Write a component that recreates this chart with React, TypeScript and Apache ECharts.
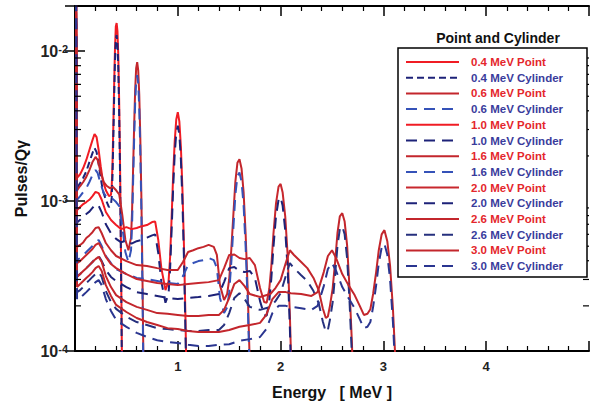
import React, { useEffect, useRef } from 'react';
import * as echarts from 'echarts';

const FONT = '"Liberation Sans", Arial, Helvetica, sans-serif';

const legendTitle = 'Point and Cylinder';
const xAxisTitle = 'Energy   [ MeV ]';
const yAxisTitle = 'Pulses/Q\u03b3';
const xTickLabels = ['1', '2', '3', '4'];
const yMinorMantissas = [2, 3, 4, 5, 6, 7, 8, 9];
const yDecades = [-4, -3, -2];

const seriesNames = [
  '0.4 MeV Point', '0.4 MeV Cylinder', '0.6 MeV Point', '0.6 MeV Cylinder',
  '1.0 MeV Point', '1.0 MeV Cylinder', '1.6 MeV Point', '1.6 MeV Cylinder',
  '2.0 MeV Point', '2.0 MeV Cylinder', '2.6 MeV Point', '2.6 MeV Cylinder',
  '3.0 MeV Point', '3.0 MeV Cylinder',
];

// [energy MeV, pulses/Qγ]
const p04: [number, number][] = [
  [0.008, 0.05], [0.02, 1.43e-3], [0.05, 1.51e-3], [0.08, 1.66e-3], [0.11, 1.88e-3], [0.14, 2.19e-3],
  [0.17, 2.55e-3], [0.19, 2.8e-3], [0.21, 2.67e-3], [0.23, 2.19e-3], [0.25, 1.71e-3], [0.27, 1.38e-3],
  [0.3, 1.18e-3], [0.33, 1.08e-3], [0.35, 1.1e-3], [0.357, 1.25e-3], [0.365, 1.78e-3], [0.373, 3.2e-3],
  [0.381, 6.0e-3], [0.389, 1.04e-2], [0.397, 1.46e-2], [0.405, 1.54e-2], [0.413, 1.36e-2], [0.421, 9.4e-3],
  [0.429, 4.9e-3], [0.437, 2.08e-3], [0.445, 6.8e-4], [0.453, 1.7e-4], [0.461, 4e-5],
];
const c04: [number, number][] = [
  [0.008, 0.05], [0.02, 1.22e-3], [0.05, 1.32e-3], [0.08, 1.43e-3], [0.11, 1.58e-3], [0.14, 1.82e-3],
  [0.17, 2.09e-3], [0.19, 2.26e-3], [0.21, 2.12e-3], [0.23, 1.77e-3], [0.25, 1.43e-3], [0.27, 1.18e-3],
  [0.3, 1.02e-3], [0.33, 9.1e-4], [0.35, 9.5e-4], [0.357, 1.05e-3], [0.365, 1.48e-3], [0.373, 2.66e-3],
  [0.381, 5.0e-3], [0.389, 8.6e-3], [0.397, 1.2e-2], [0.405, 1.28e-2], [0.413, 1.13e-2], [0.421, 7.8e-3],
  [0.429, 4.1e-3], [0.437, 1.73e-3], [0.445, 5.6e-4], [0.453, 1.4e-4], [0.461, 3e-5],
];
const p06: [number, number][] = [
  [0.008, 0.05], [0.02, 1.18e-3], [0.05, 1.26e-3], [0.08, 1.34e-3], [0.11, 1.45e-3], [0.14, 1.61e-3],
  [0.17, 1.82e-3], [0.2, 1.97e-3], [0.22, 1.88e-3], [0.25, 1.56e-3], [0.28, 1.34e-3], [0.31, 1.26e-3],
  [0.34, 1.22e-3], [0.37, 1.24e-3], [0.4, 1.18e-3], [0.43, 1.11e-3], [0.46, 8.1e-4], [0.49, 5.5e-4],
  [0.52, 4.7e-4], [0.545, 5.7e-4], [0.555, 8.5e-4], [0.565, 1.62e-3], [0.575, 3.1e-3], [0.585, 5.45e-3],
  [0.595, 7.7e-3], [0.605, 8.45e-3], [0.615, 7.44e-3], [0.625, 5.15e-3], [0.635, 2.7e-3], [0.645, 1.14e-3],
  [0.655, 3.7e-4], [0.665, 9.3e-5], [0.675, 2e-5],
];
const c06: [number, number][] = [
  [0.008, 0.05], [0.02, 1.02e-3], [0.05, 1.08e-3], [0.08, 1.15e-3], [0.11, 1.22e-3], [0.14, 1.34e-3],
  [0.17, 1.49e-3], [0.2, 1.61e-3], [0.22, 1.54e-3], [0.25, 1.3e-3], [0.28, 1.13e-3], [0.31, 1.06e-3],
  [0.34, 1.05e-3], [0.37, 1.03e-3], [0.4, 9.85e-4], [0.43, 9.26e-4], [0.46, 6.8e-4], [0.49, 4.57e-4],
  [0.52, 3.92e-4], [0.545, 4.7e-4], [0.555, 6.9e-4], [0.565, 1.32e-3], [0.575, 2.55e-3], [0.585, 4.45e-3],
  [0.595, 6.3e-3], [0.605, 6.92e-3], [0.615, 6.09e-3], [0.625, 4.22e-3], [0.635, 2.21e-3], [0.645, 9.3e-4],
  [0.655, 3.0e-4], [0.665, 7.6e-5], [0.675, 2e-5],
];
const p10: [number, number][] = [
  [0.008, 0.05], [0.02, 8.71e-4], [0.05, 9.12e-4], [0.08, 9.55e-4], [0.11, 9.85e-4], [0.14, 1.02e-3],
  [0.17, 1.08e-3], [0.2, 1.15e-3], [0.23, 1.13e-3], [0.26, 1.02e-3], [0.3, 8.45e-4], [0.35, 7.47e-4],
  [0.4, 6.92e-4], [0.45, 6.5e-4], [0.5, 6.7e-4], [0.55, 6.5e-4], [0.6, 6.61e-4], [0.65, 6.8e-4],
  [0.7, 6.92e-4], [0.75, 7.24e-4], [0.78, 7.3e-4], [0.81, 5.5e-4], [0.84, 3.57e-4], [0.88, 2.55e-4],
  [0.91, 2.9e-4], [0.925, 4.2e-4], [0.94, 7.8e-4], [0.955, 1.5e-3], [0.97, 2.5e-3], [0.985, 3.5e-3],
  [1.0, 3.92e-3], [1.015, 3.4e-3], [1.03, 2.3e-3], [1.045, 1.2e-3], [1.06, 5.0e-4], [1.075, 1.6e-4], [1.09, 4e-5],
];
const c10: [number, number][] = [
  [0.008, 0.05], [0.02, 7.2e-4], [0.05, 7.5e-4], [0.08, 7.9e-4], [0.11, 8.2e-4], [0.14, 8.5e-4],
  [0.17, 9.0e-4], [0.2, 9.5e-4], [0.23, 9.3e-4], [0.26, 8.4e-4], [0.3, 7.0e-4], [0.35, 6.1e-4],
  [0.4, 5.6e-4], [0.45, 5.3e-4], [0.5, 5.5e-4], [0.55, 5.2e-4], [0.6, 5.4e-4], [0.65, 5.5e-4],
  [0.7, 5.7e-4], [0.75, 5.9e-4], [0.78, 6.0e-4], [0.81, 4.5e-4], [0.84, 2.9e-4], [0.88, 2.1e-4],
  [0.91, 2.4e-4], [0.925, 3.5e-4], [0.94, 6.4e-4], [0.955, 1.23e-3], [0.97, 2.05e-3], [0.985, 2.85e-3],
  [1.0, 3.18e-3], [1.015, 2.78e-3], [1.03, 1.9e-3], [1.045, 1.0e-3], [1.06, 4.1e-4], [1.075, 1.3e-4], [1.09, 3e-5],
];
const p16: [number, number][] = [
  [0.008, 0.05], [0.02, 4.95e-4], [0.05, 5.1e-4], [0.08, 5.3e-4], [0.11, 5.67e-4], [0.14, 5.9e-4],
  [0.17, 6.2e-4], [0.2, 6.61e-4], [0.23, 6.7e-4], [0.26, 6.1e-4], [0.3, 5.25e-4], [0.35, 4.7e-4],
  [0.4, 4.3e-4], [0.5, 3.98e-4], [0.6, 3.74e-4], [0.7, 3.69e-4], [0.8, 3.57e-4], [0.9, 3.47e-4],
  [1.0, 3.47e-4], [1.05, 3.92e-4], [1.1, 4.57e-4], [1.15, 4.7e-4], [1.2, 4.85e-4], [1.25, 4.95e-4],
  [1.3, 5.1e-4], [1.35, 4.95e-4], [1.38, 4.37e-4], [1.41, 2.75e-4], [1.45, 2.19e-4], [1.48, 2.4e-4],
  [1.5, 3.0e-4], [1.52, 4.7e-4], [1.54, 8.0e-4], [1.56, 1.35e-3], [1.58, 1.8e-3], [1.6, 1.9e-3],
  [1.62, 1.65e-3], [1.64, 1.15e-3], [1.66, 6.0e-4], [1.68, 2.54e-4], [1.7, 8.3e-5], [1.72, 2e-5],
];
const c16: [number, number][] = [
  [0.008, 0.05], [0.02, 4.04e-4], [0.05, 4.17e-4], [0.08, 4.37e-4], [0.11, 4.57e-4], [0.14, 4.79e-4],
  [0.17, 5.01e-4], [0.2, 5.3e-4], [0.23, 5.5e-4], [0.26, 5.01e-4], [0.3, 4.3e-4], [0.35, 3.86e-4],
  [0.4, 3.52e-4], [0.5, 3.26e-4], [0.6, 3.07e-4], [0.7, 3.02e-4], [0.8, 2.93e-4], [0.9, 2.84e-4],
  [1.0, 2.8e-4], [1.05, 3.16e-4], [1.1, 3.74e-4], [1.15, 3.86e-4], [1.2, 3.98e-4], [1.25, 4.04e-4],
  [1.3, 4.17e-4], [1.35, 4.04e-4], [1.38, 3.57e-4], [1.41, 2.26e-4], [1.45, 1.79e-4], [1.48, 1.95e-4],
  [1.5, 2.45e-4], [1.52, 3.85e-4], [1.54, 6.5e-4], [1.56, 1.1e-3], [1.58, 1.47e-3], [1.6, 1.55e-3],
  [1.62, 1.35e-3], [1.64, 9.4e-4], [1.66, 4.9e-4], [1.68, 2.1e-4], [1.7, 6.8e-5], [1.72, 2e-5],
];
const p20: [number, number][] = [
  [0.008, 0.05], [0.02, 3.86e-4], [0.05, 3.98e-4], [0.08, 4.17e-4], [0.11, 4.37e-4], [0.14, 4.57e-4],
  [0.17, 4.79e-4], [0.2, 5.1e-4], [0.23, 5.25e-4], [0.26, 4.85e-4], [0.3, 4.24e-4], [0.35, 3.8e-4],
  [0.4, 3.57e-4], [0.5, 3.26e-4], [0.6, 3.02e-4], [0.7, 2.93e-4], [0.8, 2.84e-4], [0.9, 2.8e-4],
  [1.0, 2.75e-4], [1.1, 2.8e-4], [1.2, 2.84e-4], [1.3, 2.88e-4], [1.4, 2.97e-4], [1.45, 3.57e-4],
  [1.5, 4.37e-4], [1.55, 4.4e-4], [1.6, 4.17e-4], [1.65, 4.1e-4], [1.7, 4.17e-4], [1.75, 3.74e-4],
  [1.8, 2.63e-4], [1.84, 2.12e-4], [1.865, 2.1e-4], [1.89, 2.6e-4], [1.91, 3.7e-4], [1.93, 6.0e-4],
  [1.955, 9.6e-4], [1.98, 1.25e-3], [2.0, 1.3e-3], [2.02, 1.14e-3], [2.045, 7.9e-4], [2.07, 4.2e-4],
  [2.09, 1.76e-4], [2.11, 5.7e-5], [2.135, 1.4e-5],
];
const c20: [number, number][] = [
  [0.008, 0.05], [0.02, 3.16e-4], [0.05, 3.26e-4], [0.08, 3.42e-4], [0.11, 3.57e-4], [0.14, 3.74e-4],
  [0.17, 3.92e-4], [0.2, 4.17e-4], [0.23, 4.3e-4], [0.26, 3.98e-4], [0.3, 3.47e-4], [0.35, 3.12e-4],
  [0.4, 2.93e-4], [0.5, 2.67e-4], [0.6, 2.47e-4], [0.7, 2.4e-4], [0.8, 2.33e-4], [0.9, 2.26e-4],
  [1.0, 2.22e-4], [1.1, 2.26e-4], [1.2, 2.29e-4], [1.3, 2.33e-4], [1.4, 2.4e-4], [1.45, 2.88e-4],
  [1.5, 3.57e-4], [1.55, 3.63e-4], [1.6, 3.42e-4], [1.65, 3.36e-4], [1.7, 3.42e-4], [1.75, 3.07e-4],
  [1.8, 2.15e-4], [1.84, 1.74e-4], [1.865, 1.72e-4], [1.89, 2.15e-4], [1.91, 3.05e-4], [1.93, 4.9e-4],
  [1.955, 7.9e-4], [1.98, 1.02e-3], [2.0, 1.06e-3], [2.02, 9.3e-4], [2.045, 6.4e-4], [2.07, 3.4e-4],
  [2.09, 1.43e-4], [2.11, 4.6e-5], [2.135, 1.2e-5],
];
const p26: [number, number][] = [
  [0.008, 0.05], [0.02, 3.12e-4], [0.05, 3.26e-4], [0.08, 3.42e-4], [0.11, 3.57e-4], [0.14, 3.74e-4],
  [0.17, 3.92e-4], [0.2, 4.1e-4], [0.23, 4.24e-4], [0.26, 3.92e-4], [0.3, 3.16e-4], [0.35, 2.67e-4],
  [0.4, 2.36e-4], [0.5, 2.12e-4], [0.6, 1.97e-4], [0.7, 1.88e-4], [0.8, 1.79e-4], [0.9, 1.77e-4],
  [1.0, 1.74e-4], [1.1, 1.71e-4], [1.2, 1.71e-4], [1.3, 1.74e-4], [1.4, 1.74e-4], [1.45, 1.88e-4],
  [1.5, 2.26e-4], [1.55, 2.8e-4], [1.6, 2.97e-4], [1.65, 2.71e-4], [1.7, 2.4e-4], [1.8, 2.29e-4],
  [1.9, 2.4e-4], [1.95, 2.63e-4], [2.0, 2.97e-4], [2.05, 3.86e-4], [2.09, 4.7e-4], [2.13, 4.37e-4],
  [2.2, 3.92e-4], [2.26, 3.57e-4], [2.32, 3.07e-4], [2.37, 2.55e-4], [2.41, 1.93e-4], [2.44, 1.66e-4],
  [2.46, 1.7e-4], [2.48, 2.0e-4], [2.506, 2.6e-4], [2.53, 3.9e-4], [2.553, 6.1e-4], [2.576, 7.9e-4],
  [2.6, 8.3e-4], [2.623, 7.3e-4], [2.647, 5.06e-4], [2.67, 2.66e-4], [2.694, 1.12e-4], [2.717, 3.7e-5],
];
const c26: [number, number][] = [
  [0.008, 0.05], [0.02, 2.47e-4], [0.05, 2.55e-4], [0.08, 2.67e-4], [0.11, 2.84e-4], [0.14, 2.97e-4],
  [0.17, 3.12e-4], [0.2, 3.26e-4], [0.23, 3.36e-4], [0.26, 3.12e-4], [0.3, 2.51e-4], [0.35, 2.12e-4],
  [0.4, 1.91e-4], [0.5, 1.69e-4], [0.6, 1.56e-4], [0.7, 1.49e-4], [0.8, 1.42e-4], [0.9, 1.4e-4],
  [1.0, 1.38e-4], [1.1, 1.36e-4], [1.2, 1.36e-4], [1.3, 1.38e-4], [1.4, 1.38e-4], [1.45, 1.49e-4],
  [1.5, 1.79e-4], [1.55, 2.26e-4], [1.6, 2.43e-4], [1.65, 2.22e-4], [1.7, 1.97e-4], [1.8, 1.88e-4],
  [1.9, 1.97e-4], [1.95, 2.15e-4], [2.0, 2.43e-4], [2.05, 3.16e-4], [2.09, 3.86e-4], [2.13, 3.57e-4],
  [2.2, 3.2e-4], [2.26, 2.93e-4], [2.32, 2.51e-4], [2.37, 2.09e-4], [2.41, 1.58e-4], [2.44, 1.34e-4],
  [2.46, 1.38e-4], [2.48, 1.62e-4], [2.506, 2.1e-4], [2.53, 3.2e-4], [2.553, 5.0e-4], [2.576, 6.5e-4],
  [2.6, 6.8e-4], [2.623, 6.0e-4], [2.647, 4.15e-4], [2.67, 2.18e-4], [2.694, 9.2e-5], [2.717, 3e-5],
];
const p30: [number, number][] = [
  [0.008, 0.05], [0.02, 2.67e-4], [0.05, 2.8e-4], [0.08, 2.93e-4], [0.11, 3.07e-4], [0.14, 3.2e-4],
  [0.17, 3.36e-4], [0.2, 3.57e-4], [0.23, 3.69e-4], [0.26, 3.42e-4], [0.3, 2.75e-4], [0.35, 2.33e-4],
  [0.4, 2.03e-4], [0.5, 1.82e-4], [0.6, 1.66e-4], [0.7, 1.56e-4], [0.8, 1.49e-4], [0.9, 1.42e-4],
  [1.0, 1.4e-4], [1.1, 1.36e-4], [1.2, 1.34e-4], [1.3, 1.34e-4], [1.4, 1.34e-4], [1.5, 1.38e-4],
  [1.6, 1.45e-4], [1.7, 1.49e-4], [1.8, 1.54e-4], [1.86, 1.74e-4], [1.92, 2.22e-4], [1.98, 2.47e-4],
  [2.05, 2.47e-4], [2.1, 2.43e-4], [2.2, 2.4e-4], [2.3, 2.33e-4], [2.36, 2.47e-4], [2.42, 3.36e-4],
  [2.46, 4.3e-4], [2.5, 4.7e-4], [2.54, 4.17e-4], [2.6, 3.26e-4], [2.66, 2.75e-4], [2.72, 2.36e-4],
  [2.77, 2.0e-4], [2.81, 1.74e-4], [2.845, 1.77e-4], [2.873, 1.9e-4], [2.9, 2.4e-4], [2.928, 3.3e-4],
  [2.955, 4.7e-4], [2.983, 6.0e-4], [3.01, 6.4e-4], [3.038, 5.4e-4], [3.065, 3.7e-4], [3.093, 1.9e-4],
  [3.12, 7.8e-5], [3.148, 2.6e-5],
];
const c30: [number, number][] = [
  [0.008, 0.05], [0.02, 2.19e-4], [0.05, 2.26e-4], [0.08, 2.36e-4], [0.11, 2.47e-4], [0.14, 2.59e-4],
  [0.17, 2.71e-4], [0.2, 2.88e-4], [0.23, 2.97e-4], [0.26, 2.75e-4], [0.3, 2.22e-4], [0.35, 1.85e-4],
  [0.4, 1.61e-4], [0.5, 1.45e-4], [0.6, 1.32e-4], [0.7, 1.24e-4], [0.8, 1.18e-4], [0.9, 1.15e-4],
  [1.0, 1.13e-4], [1.1, 1.1e-4], [1.2, 1.08e-4], [1.3, 1.08e-4], [1.4, 1.1e-4], [1.5, 1.11e-4],
  [1.6, 1.17e-4], [1.7, 1.2e-4], [1.8, 1.24e-4], [1.86, 1.4e-4], [1.92, 1.79e-4], [1.98, 2.0e-4],
  [2.05, 2.0e-4], [2.1, 1.97e-4], [2.2, 1.93e-4], [2.3, 1.88e-4], [2.36, 2.0e-4], [2.42, 2.71e-4],
  [2.46, 3.52e-4], [2.5, 3.86e-4], [2.54, 3.42e-4], [2.6, 2.67e-4], [2.66, 2.26e-4], [2.72, 1.93e-4],
  [2.77, 1.63e-4], [2.81, 1.42e-4], [2.845, 1.45e-4], [2.873, 1.56e-4], [2.9, 1.97e-4], [2.928, 2.7e-4],
  [2.955, 3.85e-4], [2.983, 4.9e-4], [3.01, 5.2e-4], [3.038, 4.4e-4], [3.065, 3.0e-4], [3.093, 1.55e-4],
  [3.12, 6.4e-5], [3.148, 2.1e-5],
];

const seriesData = [p04, c04, p06, c06, p10, c10, p16, c16, p20, c20, p26, c26, p30, c30];
const lineColors = [
  '#f01c24', '#1d2278', '#c3262c', '#3552b8', '#f01c24', '#1d2278', '#c3262c',
  '#3552b8', '#c8282e', '#1d2278', '#c3262c', '#26307e', '#c3262c', '#2a3590',
];
const lineDashes: (number[] | 'solid')[] = [
  'solid', [7, 4], 'solid', [11, 7], 'solid', [11, 7], 'solid',
  [11, 7], 'solid', [11, 7], 'solid', [11, 7], 'solid', [11, 7],
];
const textColors = seriesNames.map((n) => (n.indexOf('Point') >= 0 ? '#e4262c' : '#3a3c9c'));

export default function App() {
  const ref = useRef<HTMLDivElement>(null);

  useEffect(() => {
    if (!ref.current) return;
    const chart = echarts.init(ref.current, undefined, { renderer: 'svg' });

    const yMinorVals: number[] = [];
    yDecades.forEach((d) => {
      yMinorMantissas.forEach((m) => {
        const v = m * Math.pow(10, d);
        if (v <= 0.02) yMinorVals.push(v);
      });
    });

    const axisLine = { show: true, lineStyle: { color: '#000', width: 2 } };
    const axisTick = { show: true, inside: true, length: 10, lineStyle: { color: '#000', width: 1.5 } };
    const minorTick = { show: true, splitNumber: 5, length: 5, lineStyle: { color: '#000', width: 1.2 } };

    const lineSeries = seriesNames.map((name, i) => ({
      type: 'line',
      name,
      data: seriesData[i],
      showSymbol: false,
      symbol: 'none',
      smooth: false,
      clip: true,
      z: 2,
      lineStyle: { color: lineColors[i], width: 2, type: lineDashes[i] },
      itemStyle: { color: lineColors[i] },
    }));

    const option: any = {
      animation: false,
      backgroundColor: '#fff',
      grid: { left: 75, right: -3, top: 6, bottom: 57, containLabel: false },
      xAxis: [
        {
          type: 'value', min: 0, max: 5, interval: 1, position: 'bottom',
          axisLine, axisTick, minorTick, splitLine: { show: false },
          axisLabel: {
            formatter: (v: number) => (xTickLabels.indexOf(String(v)) >= 0 ? String(v) : ''),
            fontSize: 13, fontWeight: 'bold', color: '#222', margin: 9, fontFamily: FONT,
          },
          name: xAxisTitle, nameLocation: 'middle', nameGap: 33,
          nameTextStyle: { fontSize: 16, fontWeight: 'bold', color: '#111', fontFamily: FONT },
        },
        {
          type: 'value', min: 0, max: 5, interval: 1, position: 'top',
          axisLine, axisTick, minorTick, splitLine: { show: false }, axisLabel: { show: false },
        },
      ],
      yAxis: [
        {
          type: 'log', logBase: 10, min: 1e-4, max: 0.02, position: 'left',
          axisLine, axisTick, splitLine: { show: false },
          axisLabel: {
            margin: 7,
            formatter: (v: number) => {
              const e = Math.log10(v);
              const r = Math.round(e);
              if (Math.abs(e - r) > 1e-6) return '';
              return '{b|10}{s|' + r + '}';
            },
            rich: {
              b: { fontSize: 16, fontWeight: 'bold', color: '#222', fontFamily: FONT },
              s: { fontSize: 11, fontWeight: 'bold', color: '#222', fontFamily: FONT, verticalAlign: 'top' },
            },
          },
          name: yAxisTitle, nameLocation: 'middle', nameGap: 45, nameRotate: 90,
          nameTextStyle: { fontSize: 16, fontWeight: 'bold', color: '#111', fontFamily: FONT },
        },
        {
          type: 'log', logBase: 10, min: 1e-4, max: 0.02, position: 'right',
          axisLine, axisTick, splitLine: { show: false }, axisLabel: { show: false },
        },
      ],
      legend: {
        orient: 'vertical', left: 405, top: 56, itemWidth: 53, itemHeight: 14, itemGap: 3.7,
        padding: 0, z: 60, selectedMode: false,
        itemStyle: { opacity: 0, borderWidth: 0 },
        textStyle: { fontFamily: FONT, fontSize: 11.5, fontWeight: 'bold', padding: [0, 0, 0, 7] },
        data: seriesNames.map((n, i) => ({ name: n, textStyle: { color: textColors[i] } })),
      },
      graphic: [
        {
          type: 'rect', z: 50,
          shape: { x: 398, y: 48, width: 189, height: 229 },
          style: { fill: '#fff', stroke: '#000', lineWidth: 1.5 },
        },
        {
          type: 'text', z: 50, x: 498, y: 38,
          style: {
            text: legendTitle, fontSize: 14, fontWeight: 'bold', fill: '#111',
            align: 'center', verticalAlign: 'middle', fontFamily: FONT,
          },
        },
      ],
      series: [
        ...lineSeries,
        {
          type: 'custom', name: 'yMinorTicks', xAxisIndex: 0, yAxisIndex: 0, silent: true, clip: false, z: 3,
          data: yMinorVals.map((v) => [0, v]),
          renderItem: (params: any, api: any) => {
            const p = api.coord([0, api.value(1)]);
            const cs = params.coordSys;
            return {
              type: 'group',
              children: [
                { type: 'line', shape: { x1: cs.x, y1: p[1], x2: cs.x + 6, y2: p[1] }, style: { stroke: '#000', lineWidth: 1.2 } },
                { type: 'line', shape: { x1: cs.x + cs.width, y1: p[1], x2: cs.x + cs.width - 6, y2: p[1] }, style: { stroke: '#000', lineWidth: 1.2 } },
              ],
            };
          },
        },
      ],
    };

    chart.setOption(option);
    return () => chart.dispose();
  }, []);

  return (
    <div
      ref={ref}
      style={{ position: 'fixed', left: 0, top: 0, width: 592, height: 408, background: '#fff' }}
    />
  );
}
